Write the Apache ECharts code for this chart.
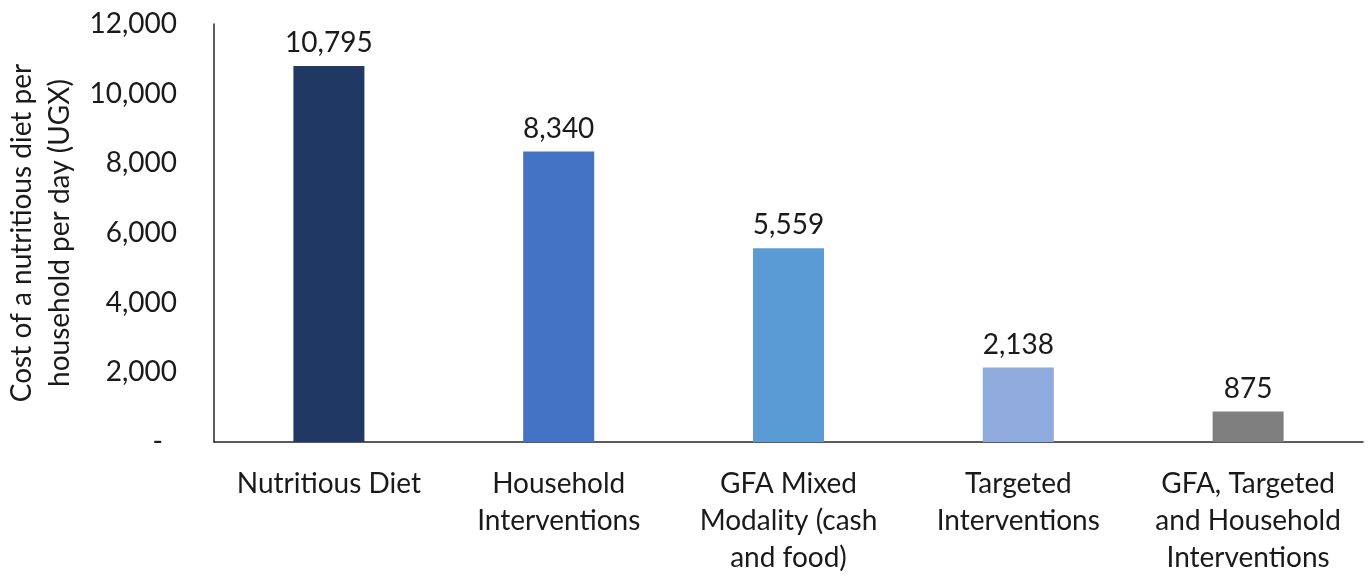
<!DOCTYPE html>
<html>
<head>
<meta charset="utf-8">
<script src="https://cdn.jsdelivr.net/npm/echarts@6/dist/echarts.min.js"></script>
<style>
  html, body { margin: 0; padding: 0; background: #fff; }
  #main { width: 1370px; height: 577px; }
</style>
</head>
<body>
<div id="main"></div>
<script>
var categories = [
    'Nutritious Diet',
    'Household\nInterventions',
    'GFA Mixed\nModality (cash\nand food)',
    'Targeted\nInterventions',
    'GFA, Targeted\nand Household\nInterventions'
];
var costValues = [10795, 8340, 5559, 2138, 875];
var barColors = ['#203864', '#4472c4', '#5b9bd5', '#8faadc', '#7f7f7f'];
var yTicks = [0, 2000, 4000, 6000, 8000, 10000, 12000];

var fontFam = 'Lato, "Open Sans", sans-serif';
var txtColor = '#1a1a1a';

function fmt(v) {
    return v.toLocaleString('en-US');
}

var myChart = echarts.init(document.getElementById('main'));

var option = {
    animation: false,
    grid: {
        left: 214,
        right: 7,
        top: 24,
        bottom: 135,
        containLabel: false,
        outerBoundsMode: 'none'
    },
    xAxis: {
        type: 'category',
        data: categories,
        axisLine: { lineStyle: { color: '#262626', width: 1.5 } },
        axisTick: { show: false },
        axisLabel: {
            color: txtColor,
            fontFamily: fontFam,
            fontSize: 28,
            lineHeight: 37,
            margin: 23,
            interval: 0
        }
    },
    yAxis: {
        type: 'value',
        min: yTicks[0],
        max: yTicks[yTicks.length - 1],
        interval: 2000,
        name: 'Cost of a nutritious diet per\nhousehold per day (UGX)',
        nameLocation: 'middle',
        nameGap: 132,
        nameTextStyle: {
            color: txtColor,
            fontFamily: fontFam,
            fontSize: 28,
            lineHeight: 38
        },
        splitLine: { show: false },
        axisLine: { show: true, lineStyle: { color: '#262626', width: 1.5 } },
        axisTick: { show: false },
        axisLabel: {
            color: txtColor,
            fontFamily: fontFam,
            fontSize: 28,
            margin: 37,
            formatter: function (v) {
                return v === 0 ? '{d|-}' : fmt(v);
            },
            rich: {
                d: { fontSize: 28, fontFamily: fontFam, color: txtColor, padding: [0, 14, 0, 0] }
            }
        }
    },
    series: [{
        type: 'bar',
        barWidth: 71,
        data: costValues.map(function (v, i) {
            return { value: v, itemStyle: { color: barColors[i] } };
        }),
        label: {
            show: true,
            position: 'top',
            distance: 9,
            color: txtColor,
            fontFamily: fontFam,
            fontSize: 28,
            formatter: function (p) { return fmt(p.value); }
        }
    }]
};

myChart.setOption(option);
</script>
</body>
</html>
